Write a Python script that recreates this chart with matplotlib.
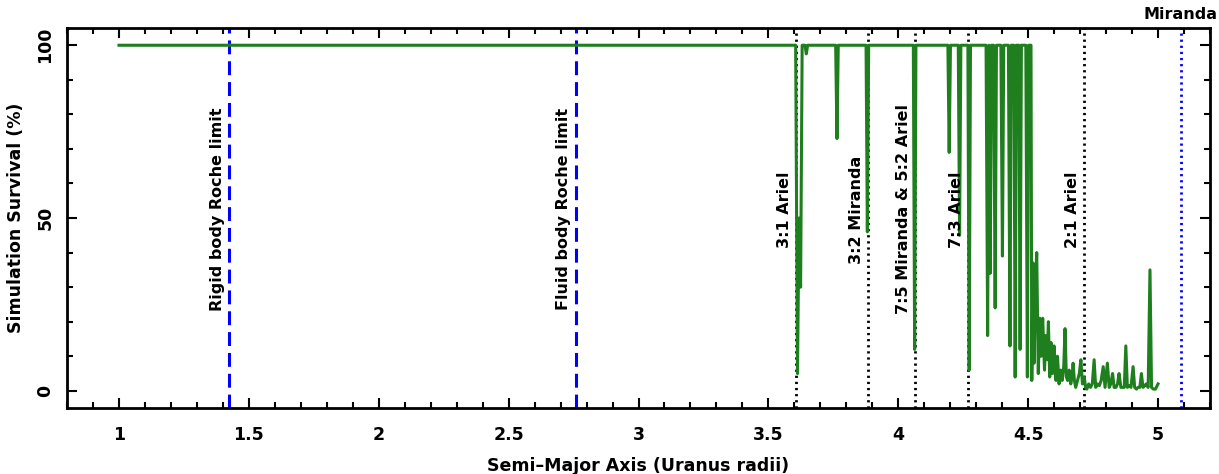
import matplotlib
matplotlib.use('Agg')
import matplotlib.pyplot as plt
from matplotlib.ticker import MultipleLocator, FormatStrFormatter

plt.rcParams['font.family'] = ['DejaVu Sans']
plt.rcParams['font.weight'] = 'bold'
plt.rcParams['axes.labelweight'] = 'bold'
plt.rcParams['lines.scale_dashes'] = False

# semi-major axis (Uranus radii) and survival (%)
# flat part and the isolated resonance dips
a_inner = [1.0, 3.605, 3.612, 3.618, 3.624, 3.630, 3.641, 3.646, 3.651,
           3.759, 3.764, 3.769, 3.876, 3.881, 3.886, 4.058, 4.063, 4.068,
           4.191, 4.196, 4.201, 4.231, 4.236, 4.241, 4.268, 4.273, 4.278]
s_inner = [100, 100, 5, 50, 30, 100, 100, 97.5, 100,
           100, 73, 100, 100, 46, 100, 100, 12, 100,
           100, 69, 100, 100, 45, 100, 100, 6, 100]

# chaotic zone
a_mid = [4.338, 4.344, 4.349, 4.354, 4.359, 4.367, 4.373, 4.378, 4.395,
         4.401, 4.406, 4.424, 4.430, 4.435, 4.445, 4.450, 4.455, 4.464,
         4.469, 4.474, 4.491, 4.497, 4.502, 4.511]
s_mid = [100, 16, 100, 34, 100, 100, 24, 100, 100,
         39, 100, 100, 13, 100, 100, 4, 100, 100,
         12, 100, 100, 4, 100, 100]

# outer region, mostly lost
a_outer = [4.514, 4.519, 4.523, 4.528, 4.533, 4.539, 4.545, 4.550, 4.556,
           4.563, 4.568, 4.573, 4.578, 4.583, 4.588, 4.594, 4.600, 4.607,
           4.613, 4.619, 4.625, 4.631, 4.637, 4.642, 4.647, 4.652, 4.658,
           4.664, 4.669, 4.673, 4.678, 4.683, 4.690, 4.697, 4.703, 4.709,
           4.716, 4.721, 4.726, 4.733, 4.740, 4.747, 4.754, 4.760, 4.767,
           4.774, 4.781, 4.789, 4.796, 4.805, 4.812, 4.818, 4.825, 4.831,
           4.838, 4.844, 4.850, 4.857, 4.863, 4.870, 4.876, 4.882, 4.889,
           4.896, 4.904, 4.910, 4.917, 4.923, 4.930, 4.936, 4.942, 4.949,
           4.955, 4.962, 4.969, 4.975, 4.982, 4.990, 5.000]
s_outer = [3, 37, 8, 30, 40, 5, 21, 10, 21,
           6, 16, 9, 20, 4, 14, 5, 13, 3,
           10, 2, 6, 3, 7, 18, 4, 3, 6,
           2, 4, 8, 3, 1, 3, 5, 9, 2,
           4, 1, 0.5, 2, 1, 2, 9, 1, 2,
           1.5, 3, 7, 1, 8, 1, 2, 5, 1,
           1, 2, 5, 1, 1, 1, 13, 1, 1.5,
           1, 7, 1, 0.5, 1, 1, 5, 1, 1.5,
           2, 1, 35, 1, 0.5, 0.5, 2]

# reference lines
roche_pos = [1.423, 2.758]
roche_names = ['Rigid body Roche limit', 'Fluid body Roche limit']
res_pos = [3.606, 3.885, 4.065, 4.269, 4.715]
res_names = ['3:1 Ariel', '3:2 Miranda', '7:5 Miranda & 5:2 Ariel',
             '7:3 Ariel', '2:1 Ariel']
miranda_pos = 5.087

a = a_inner + a_mid + a_outer
s = s_inner + s_mid + s_outer

fig = plt.figure(figsize=(12.19, 4.74), dpi=100)
ax = fig.add_axes([0.055, 0.139, 0.9376, 0.802])

ax.plot(a, s, color='#1f7f1f', lw=2.2, zorder=3)

for x, name in zip(roche_pos, roche_names):
    ax.axvline(x, color='#0000ff', lw=2.2, linestyle=(0, (10, 5)), zorder=2)
    ax.annotate(name, xy=(x, 52.5), xytext=(-3, 0), textcoords='offset points',
                rotation=90, ha='right', va='center', fontsize=11.5)
for x, name in zip(res_pos, res_names):
    ax.axvline(x, color='black', lw=2.0, linestyle=(0, (1.6, 2.8)), zorder=2)
    ax.annotate(name, xy=(x, 52.5), xytext=(-3, 0), textcoords='offset points',
                rotation=90, ha='right', va='center', fontsize=11.5)
ax.axvline(miranda_pos, color='#0000ff', lw=2.0, linestyle=(0, (1.6, 2.8)), zorder=2)
ax.annotate('Miranda', xy=(miranda_pos, 1), xycoords=('data', 'axes fraction'),
            xytext=(0, 4), textcoords='offset points', ha='center', va='bottom',
            fontsize=11.5)

ax.set_xlim(0.8, 5.2)
ax.set_ylim(-5, 105)
ax.xaxis.set_major_locator(MultipleLocator(0.5))
ax.xaxis.set_minor_locator(MultipleLocator(0.1))
ax.xaxis.set_major_formatter(FormatStrFormatter('%g'))
ax.yaxis.set_major_locator(MultipleLocator(50))
ax.yaxis.set_minor_locator(MultipleLocator(10))
ax.tick_params(which='both', direction='in', top=True, right=True, width=1.5,
               labelsize=12.5)
ax.tick_params(which='major', length=7)
ax.tick_params(which='minor', length=4)
ax.tick_params(axis='x', pad=13)
ax.tick_params(axis='y', pad=9)
for lab in ax.get_yticklabels():
    lab.set_rotation(90)
    lab.set_va('center')
for sp in ax.spines.values():
    sp.set_linewidth(2)

ax.set_xlabel('Semi\u2013Major Axis (Uranus radii)', fontsize=12.5, labelpad=9)
ax.set_ylabel('Simulation Survival (%)', fontsize=12.5, labelpad=8)

fig.savefig('out.png', dpi=100)
